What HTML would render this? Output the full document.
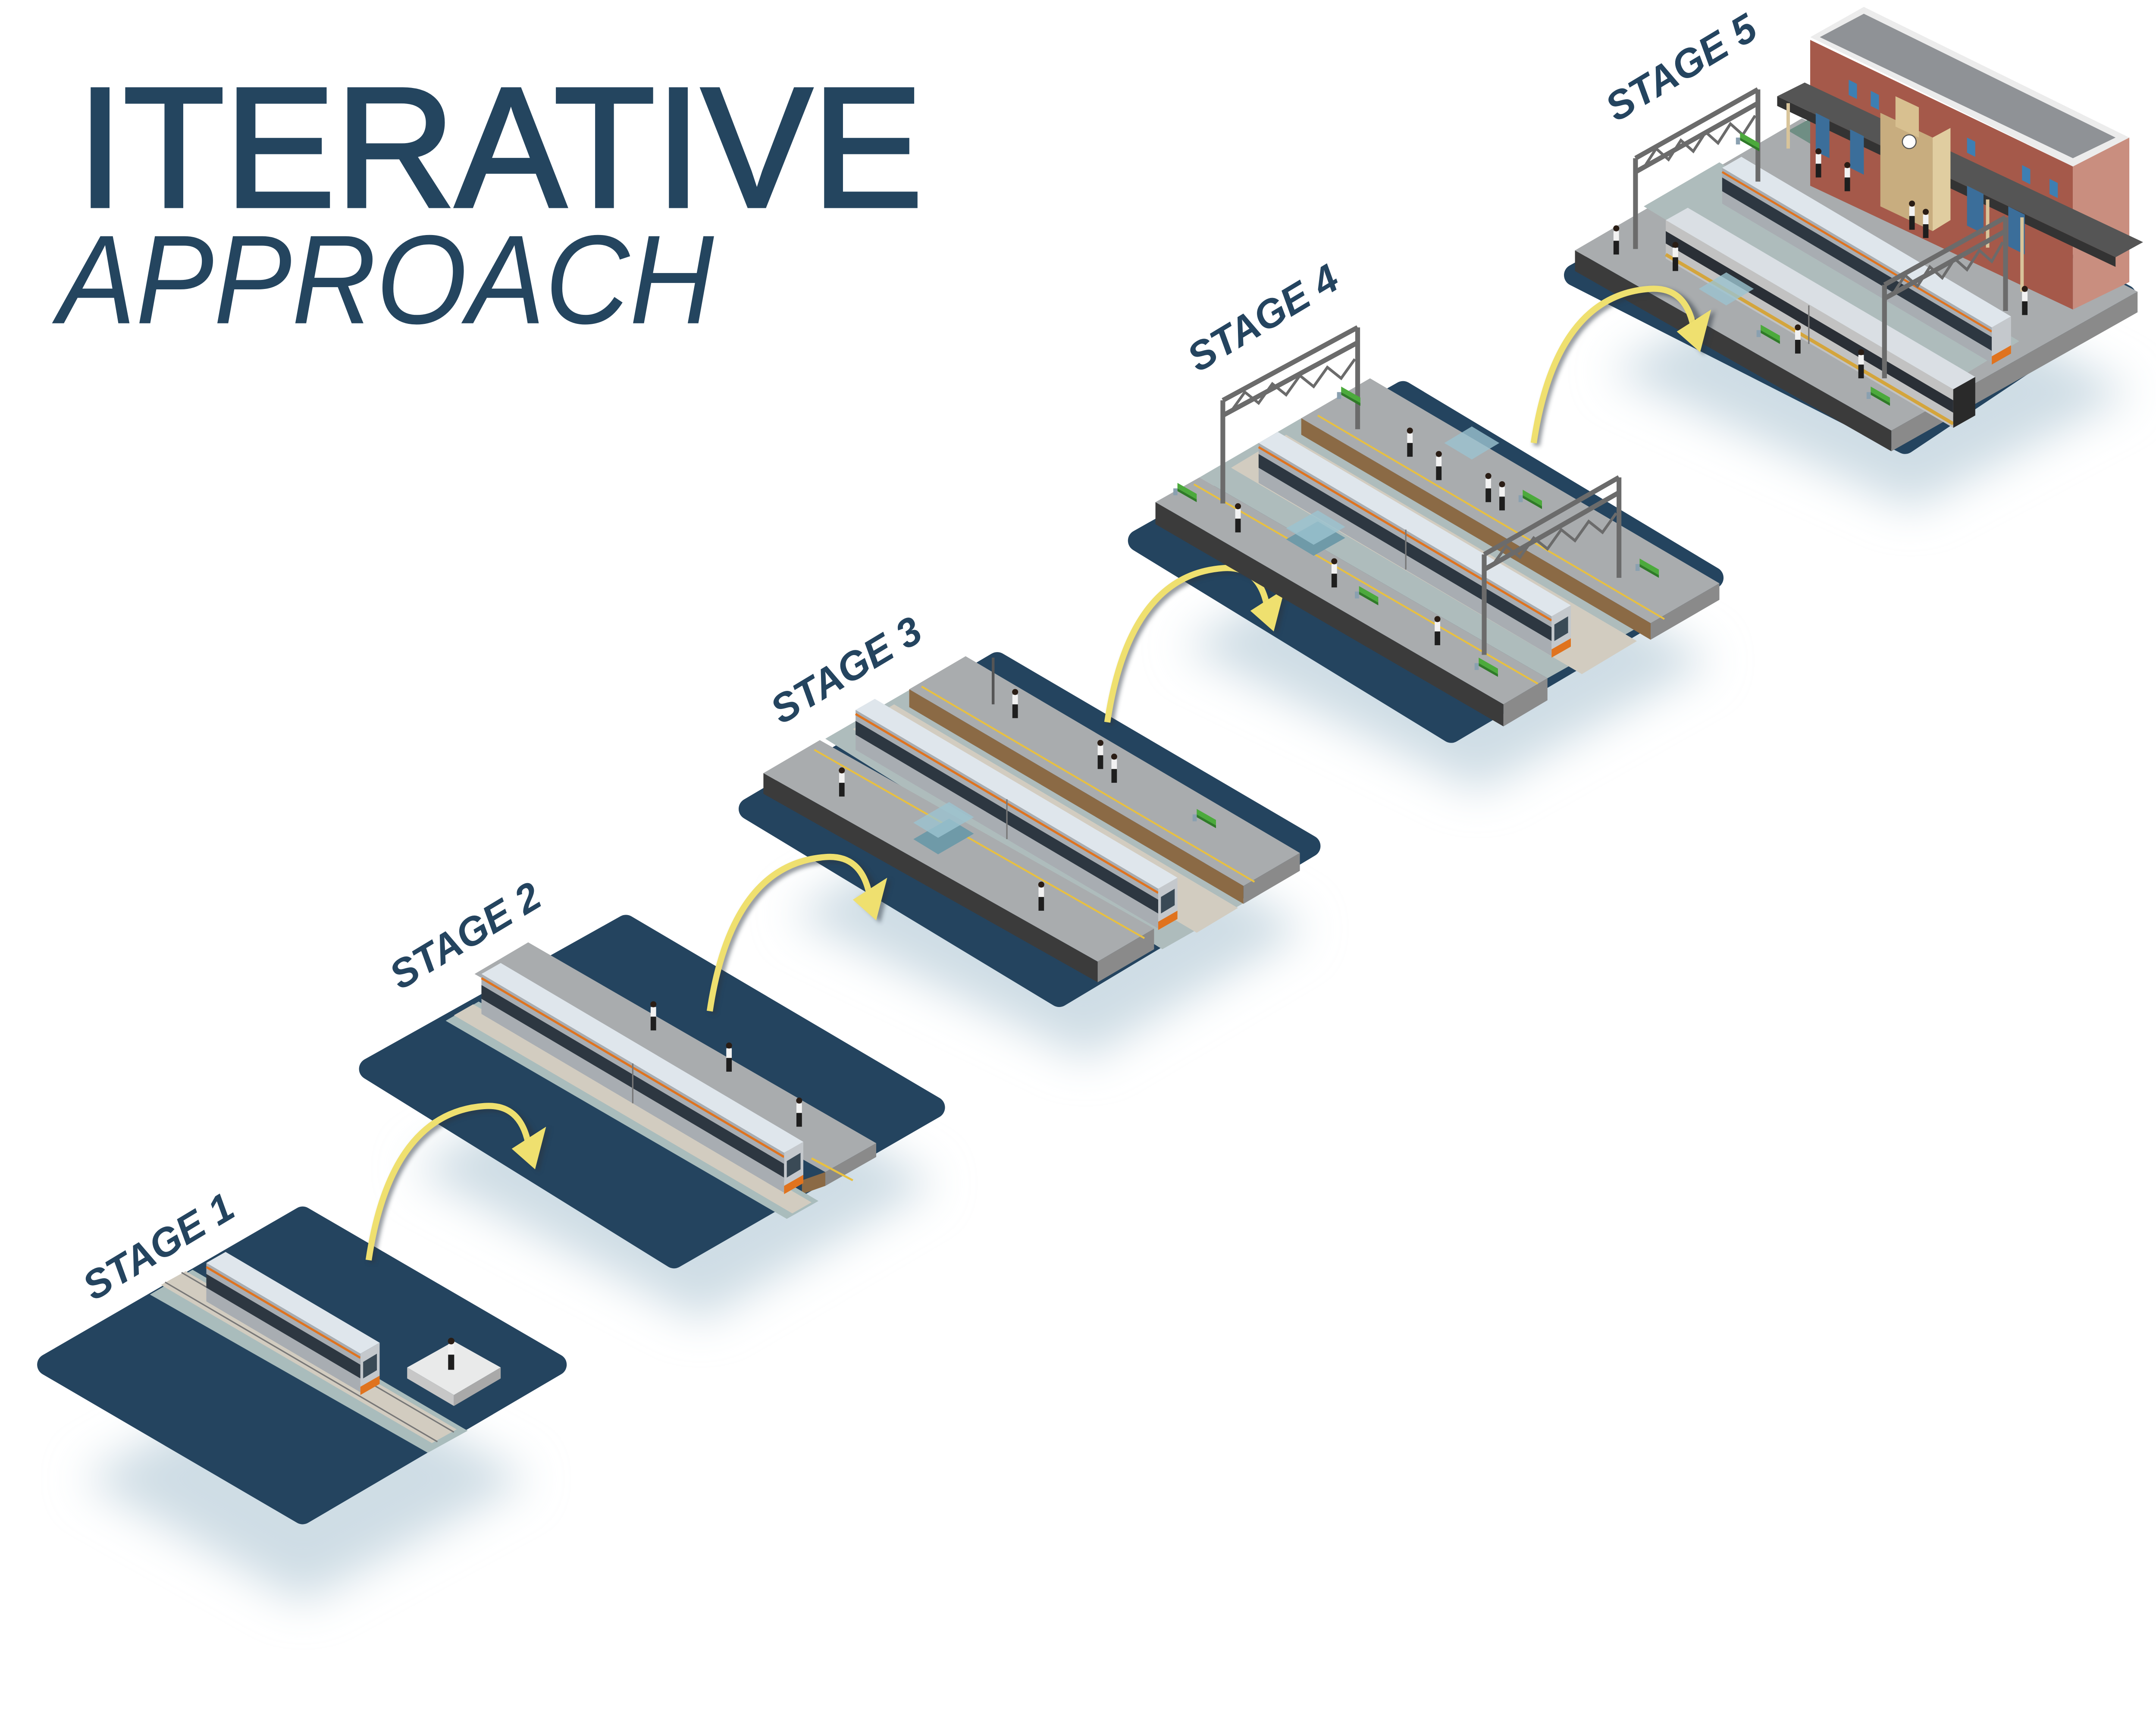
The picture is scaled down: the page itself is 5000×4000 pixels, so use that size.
<!DOCTYPE html>
<html><head><meta charset="utf-8"><style>
html,body{margin:0;padding:0;background:#fff;}
svg{display:block;}
</style></head><body>
<svg width="5000" height="4000" viewBox="0 0 1567.4 1253.9" preserveAspectRatio="none" xmlns="http://www.w3.org/2000/svg">
<defs>
<filter id="bl" x="-30%" y="-30%" width="160%" height="160%"><feGaussianBlur stdDeviation="16"/></filter>
<filter id="ds" x="-20%" y="-20%" width="140%" height="140%"><feGaussianBlur stdDeviation="1.5"/></filter>
<g id="arrow">
  <path d="M516,735 Q532,628 600,623 Q628,621 636,652" fill="none" stroke="#2a3440" stroke-width="5" opacity="0.5" filter="url(#ds)" transform="translate(2,2)"/>
  <path d="M516,735 Q532,628 600,623 Q626,621 632,650" fill="none" stroke="#efe06f" stroke-width="4.5"/>
  <polygon points="621,652 646,637 638,669" fill="#2a3440" opacity="0.5" filter="url(#ds)" transform="translate(2,2)"/>
  <polygon points="620,654 645,638 637,669" fill="#efe06f"/>
</g>
<g id="person">
  <rect x="-2" y="-10" width="4" height="8" fill="#f2f2f2"/>
  <rect x="-2" y="-3" width="4" height="10" fill="#1e1e1e"/>
  <circle cx="0" cy="-12" r="2.2" fill="#2a1d15"/>
</g>
<g id="bench">
  <polygon points="0,0 14,8 14,4 0,-4" fill="#4caa3c"/>
  <polygon points="0,0 14,8 14,10 0,2" fill="#2f7a28"/>
  <rect x="-3" y="0" width="3" height="5" fill="#8aa0b0"/>
</g>
</defs>

<!-- Title -->
<text x="56" y="150" font-family="Liberation Sans, sans-serif" font-size="124" fill="#24455f" stroke="#24455f" stroke-width="2.5" textLength="615" lengthAdjust="spacingAndGlyphs">ITERATIVE</text>
<text x="42" y="235" font-family="Liberation Sans, sans-serif" font-style="italic" font-size="92" fill="#24455f" textLength="477" lengthAdjust="spacingAndGlyphs">APPROACH</text>

<!-- Shadows -->
<g fill="#cfdde5" filter="url(#bl)">
  <polygon points="60,1075 220,985 385,1075 220,1165"/>
  <polygon points="300,850 480,745 680,860 510,960"/>
  <polygon points="575,665 750,560 950,675 790,770"/>
  <polygon points="860,470 1040,365 1245,480 1075,575"/>
  <polygon points="1170,270 1340,175 1550,285 1390,370"/>
</g>

<!-- Platforms (dark) -->
<g fill="#24445f" stroke="#24445f" stroke-width="16" stroke-linejoin="round">
  <polygon points="35,992 220,885 404,992 220,1100"/>
  <polygon points="269,777 455,673 679,805 490,914"/>
  <polygon points="545,588 725,482 952,615 770,724"/>
  <polygon points="828,393 1020,285 1245,420 1055,532"/>
  <polygon points="1145,200 1330,98 1545,215 1385,322"/>
</g>

<!-- Stage labels -->
<g font-family="Liberation Sans, sans-serif" font-weight="bold" font-style="italic" font-size="29" fill="#24445f">
  <text transform="translate(68,946) rotate(-31)">STAGE 1</text>
  <text transform="translate(291,720) rotate(-31)">STAGE 2</text>
  <text transform="translate(568,527) rotate(-31)">STAGE 3</text>
  <text transform="translate(871,271) rotate(-31)">STAGE 4</text>
  <text transform="translate(1175,89) rotate(-31)">STAGE 5</text>
</g>

<!-- ===== Stage 1 ===== -->
<polygon points="109,941 140,923 340,1040 311,1056" fill="#a9bcbc"/>
<polygon points="117,934 135,924 332,1039 314,1049" fill="#d2ccc0"/>
<line x1="120" y1="932" x2="318" y2="1048" stroke="#777" stroke-width="1"/>
<line x1="132" y1="925" x2="330" y2="1041" stroke="#777" stroke-width="1"/>
<polygon points="150,918 164,910 276,976 262,984" fill="#dfe6ec"/>
<polygon points="150,918 262,984 262,1012 150,946" fill="#a8adb2"/>
<polygon points="150,926 262,992 262,1002 150,936" fill="#2d3741"/>
<line x1="150" y1="921" x2="262" y2="987" stroke="#e0731e" stroke-width="1.6"/>
<polygon points="262,984 276,976 276,1004 262,1012" fill="#c4c8cc"/>
<polygon points="264,990 274,984 274,996 264,1002" fill="#3a4a56"/>
<polygon points="262,1008 276,1000 276,1006 262,1014" fill="#e0731e"/>
<polygon points="296,994 330,975 364,994 330,1014" fill="#e9eaea"/>
<polygon points="296,994 330,1014 330,1022 296,1002" fill="#c7c7c7"/>
<polygon points="330,1014 364,994 364,1002 330,1022" fill="#a9a9a9"/>
<use href="#person" transform="translate(328,988) scale(1.1)"/>

<use href="#arrow" transform="translate(-248,181)"/>

<!-- ===== Stage 2 ===== -->
<polygon points="345,708 384,685 637,831 600,852" fill="#a9acae"/>
<polygon points="600,852 637,831 637,841 600,862" fill="#8a8a8a"/>
<polygon points="583,858 600,852 600,862 583,868" fill="#8b6a45"/>
<line x1="590" y1="842" x2="620" y2="858" stroke="#e8c040" stroke-width="1.5"/>
<polygon points="324,742 348,728 595,873 572,886" fill="#a9bcbc"/>
<polygon points="330,738 344,730 590,874 576,882" fill="#d2ccc0"/>
<polygon points="350,708 364,700 584,830 570,838" fill="#dfe6ec"/>
<polygon points="350,708 570,838 570,867 350,737" fill="#a8adb2"/>
<polygon points="350,716 570,846 570,856 350,726" fill="#2d3741"/>
<line x1="350" y1="711" x2="570" y2="841" stroke="#e0731e" stroke-width="1.6"/>
<line x1="460" y1="773" x2="460" y2="802" stroke="#777" stroke-width="1"/>
<polygon points="570,838 584,830 584,859 570,867" fill="#c4c8cc"/>
<polygon points="572,844 582,838 582,850 572,856" fill="#3a4a56"/>
<polygon points="570,862 584,854 584,860 570,868" fill="#e0731e"/>
<use href="#person" transform="translate(475,742)"/>
<use href="#person" transform="translate(530,772)"/>
<use href="#person" transform="translate(581,812)"/>

<use href="#arrow"/>

<!-- ===== Stage 3 ===== -->
<polygon points="600,537 662,501 905,656 845,690" fill="#aebcbc"/>
<polygon points="620,530 650,512 900,660 870,678" fill="#d2ccc0"/>
<polygon points="661,501 702,477 945,620 904,644" fill="#a9acae"/>
<polygon points="661,501 904,644 904,657 661,514" fill="#8b6a45"/>
<polygon points="904,644 945,620 945,633 904,657" fill="#8a8a8a"/>
<line x1="670" y1="499" x2="912" y2="641" stroke="#e8c040" stroke-width="1.3"/>
<polygon points="622,516 636,508 856,638 842,646" fill="#dfe6ec"/>
<polygon points="622,516 842,646 842,675 622,545" fill="#a8adb2"/>
<polygon points="622,524 842,654 842,664 622,534" fill="#2d3741"/>
<line x1="622" y1="519" x2="842" y2="649" stroke="#e0731e" stroke-width="1.6"/>
<line x1="732" y1="581" x2="732" y2="610" stroke="#777" stroke-width="1"/>
<polygon points="842,646 856,638 856,667 842,675" fill="#c4c8cc"/>
<polygon points="844,652 854,646 854,658 844,664" fill="#3a4a56"/>
<polygon points="842,670 856,662 856,668 842,676" fill="#e0731e"/>
<polygon points="555,562 596,538 839,675 798,699" fill="#a9acae"/>
<polygon points="555,562 798,699 798,714 555,577" fill="#3b3b3b"/>
<polygon points="798,699 839,675 839,690 798,714" fill="#8a8a8a"/>
<line x1="592" y1="545" x2="832" y2="682" stroke="#e8c040" stroke-width="1.3"/>
<polygon points="664,610 690,595 708,606 682,621" fill="#6f9aa8"/>
<polygon points="664,598 690,583 708,594 682,609" fill="#9bc3d0" opacity="0.8"/>
<line x1="722" y1="478" x2="722" y2="512" stroke="#555" stroke-width="2"/>
<use href="#person" transform="translate(738,515)"/>
<use href="#person" transform="translate(800,552)"/>
<use href="#person" transform="translate(810,562)"/>
<use href="#person" transform="translate(612,572)"/>
<use href="#person" transform="translate(757,655)"/>
<use href="#bench" transform="translate(870,592)"/>

<use href="#arrow" transform="translate(289,-210)"/>

<!-- ===== Stage 4 ===== -->
<polygon points="872,347 946,304 1198,452 1125,493" fill="#aebcbc"/>
<polygon points="895,340 935,316 1190,466 1150,490" fill="#d2ccc0"/>
<polygon points="946,304 996,275 1250,424 1200,453" fill="#a9acae"/>
<polygon points="946,304 1200,453 1200,465 946,316" fill="#8b6a45"/>
<polygon points="1200,453 1250,424 1250,436 1200,465" fill="#8a8a8a"/>
<line x1="958" y1="302" x2="1210" y2="450" stroke="#e8c040" stroke-width="1.3"/>
<polygon points="915,322 929,314 1142,440 1128,448" fill="#dfe6ec"/>
<polygon points="915,322 1128,448 1128,477 915,351" fill="#a8adb2"/>
<polygon points="915,330 1128,456 1128,466 915,340" fill="#2d3741"/>
<line x1="915" y1="325" x2="1128" y2="451" stroke="#e0731e" stroke-width="1.6"/>
<line x1="1022" y1="385" x2="1022" y2="414" stroke="#777" stroke-width="1"/>
<polygon points="1128,448 1142,440 1142,469 1128,477" fill="#c4c8cc"/>
<polygon points="1130,454 1140,448 1140,460 1130,466" fill="#3a4a56"/>
<polygon points="1128,472 1142,464 1142,470 1128,478" fill="#e0731e"/>
<polygon points="840,365 872,347 1125,493 1093,512" fill="#a9acae"/>
<polygon points="840,365 1093,512 1093,528 840,381" fill="#3b3b3b"/>
<polygon points="1093,512 1125,493 1125,509 1093,528" fill="#8a8a8a"/>
<line x1="868" y1="352" x2="1118" y2="497" stroke="#e8c040" stroke-width="1.3"/>
<polygon points="935,392 958,379 978,391 955,404" fill="#6f9aa8"/>
<polygon points="935,384 958,371 978,383 955,396" fill="#9bc3d0" opacity="0.8"/>
<polygon points="1050,322 1070,310 1090,322 1070,334" fill="#9bc3d0" opacity="0.8"/>
<g stroke="#6b6b6b" stroke-width="3.5" fill="none">
  <line x1="889" y1="366" x2="889" y2="291"/><line x1="987" y1="312" x2="987" y2="238"/>
  <line x1="889" y1="291" x2="987" y2="238"/><line x1="889" y1="302" x2="987" y2="249"/>
  <polyline points="895,299 905,285 915,293 925,279 935,287 945,273 955,281 965,267 975,275 985,261" stroke-width="2"/>
  <line x1="1079" y1="476" x2="1079" y2="403"/><line x1="1177" y1="420" x2="1177" y2="347"/>
  <line x1="1079" y1="403" x2="1177" y2="347"/><line x1="1079" y1="414" x2="1177" y2="358"/>
  <polyline points="1085,411 1095,397 1105,405 1115,391 1125,399 1135,385 1145,393 1155,379 1165,387 1175,373" stroke-width="2"/>
</g>
<use href="#bench" transform="translate(856,355)"/>
<use href="#bench" transform="translate(975,285)"/>
<use href="#bench" transform="translate(1107,360)"/>
<use href="#bench" transform="translate(1192,410)"/>
<use href="#bench" transform="translate(988,430)"/>
<use href="#bench" transform="translate(1075,482)"/>
<use href="#person" transform="translate(900,380)"/>
<use href="#person" transform="translate(1025,325)"/>
<use href="#person" transform="translate(1046,342)"/>
<use href="#person" transform="translate(1082,358)"/>
<use href="#person" transform="translate(1092,364)"/>
<use href="#person" transform="translate(970,420)"/>
<use href="#person" transform="translate(1045,462)"/>

<!-- ===== Stage 5 ===== -->
<polygon points="1145,182 1310,86 1554,212 1375,313" fill="#a9acae"/>
<polygon points="1145,182 1375,313 1375,328 1145,197" fill="#3b3b3b"/>
<polygon points="1375,313 1554,212 1554,227 1375,328" fill="#8a8a8a"/>
<polygon points="1300,95 1320,84 1500,180 1470,195" fill="#6f8e84"/>
<polygon points="1195,150 1250,118 1468,248 1412,282" fill="#aebcbc"/>
<polygon points="1316,29 1507,121 1507,225 1316,135" fill="#a5594a"/>
<polygon points="1507,121 1548,100 1548,205 1507,225" fill="#c98e7f"/>
<polygon points="1316,27 1355,5 1548,100 1507,121" fill="#ececec"/>
<polygon points="1323,27 1355,10 1538,100 1507,115" fill="#8f9296"/>
<g fill="#3d7fb3">
  <polygon points="1344,58 1350,61 1350,72 1344,69"/>
  <polygon points="1360,66 1366,69 1366,80 1360,77"/>
  <polygon points="1430,100 1436,103 1436,114 1430,111"/>
  <polygon points="1470,120 1476,123 1476,134 1470,131"/>
  <polygon points="1490,130 1496,133 1496,144 1490,141"/>
</g>
<polygon points="1292,70 1312,60 1558,176 1538,187" fill="#555"/>
<polygon points="1292,70 1538,187 1538,194 1292,77" fill="#333"/>
<g fill="#3b6e9a">
  <polygon points="1320,82 1330,87 1330,115 1320,110"/>
  <polygon points="1345,94 1355,99 1355,127 1345,122"/>
  <polygon points="1380,111 1392,117 1392,147 1380,141"/>
  <polygon points="1430,135 1442,141 1442,170 1430,164"/>
  <polygon points="1460,150 1472,156 1472,185 1460,179"/>
</g>
<polygon points="1367,82 1405,100 1405,168 1367,150" fill="#c8ad7f"/>
<polygon points="1405,100 1418,93 1418,160 1405,168" fill="#e0cda0"/>
<polygon points="1378,70 1395,78 1395,100 1378,92" fill="#d8c090"/>
<circle cx="1388" cy="103" r="5" fill="#fff" stroke="#555" stroke-width="0.8"/>
<g stroke="#d8c49a" stroke-width="2.5">
  <line x1="1300" y1="75" x2="1300" y2="108"/>
  <line x1="1445" y1="145" x2="1445" y2="180"/>
  <line x1="1470" y1="158" x2="1470" y2="212"/>
</g>
<polygon points="1252,122 1266,114 1462,230 1448,238" fill="#dfe6ec"/>
<polygon points="1252,122 1448,238 1448,264 1252,148" fill="#a8adb2"/>
<polygon points="1252,129 1448,245 1448,255 1252,139" fill="#2d3741"/>
<line x1="1252" y1="125" x2="1448" y2="241" stroke="#e0731e" stroke-width="1.5"/>
<polygon points="1448,238 1462,230 1462,256 1448,264" fill="#c4c8cc"/>
<polygon points="1448,259 1462,251 1462,257 1448,265" fill="#e0731e"/>
<polygon points="1211,160 1227,151 1436,274 1420,283" fill="#dadfe4"/>
<polygon points="1211,160 1420,283 1420,311 1211,188" fill="#c2c2c2"/>
<polygon points="1211,168 1420,291 1420,300 1211,177" fill="#2a2f36"/>
<line x1="1211" y1="185" x2="1420" y2="308" stroke="#d4a53c" stroke-width="2.5"/>
<line x1="1315" y1="222" x2="1315" y2="250" stroke="#777" stroke-width="1"/>
<polygon points="1420,283 1436,274 1436,302 1420,311" fill="#2a2a2a"/>
<g stroke="#6b6b6b" stroke-width="3.5" fill="none">
  <line x1="1189" y1="181" x2="1189" y2="115"/><line x1="1278" y1="132" x2="1278" y2="65"/>
  <line x1="1189" y1="115" x2="1278" y2="65"/><line x1="1189" y1="125" x2="1278" y2="75"/>
  <polyline points="1195,122 1204,108 1213,116 1222,102 1231,110 1240,96 1249,104 1258,90 1267,98 1276,84" stroke-width="2"/>
  <line x1="1370" y1="275" x2="1370" y2="207"/><line x1="1458" y1="226" x2="1458" y2="158"/>
  <line x1="1370" y1="207" x2="1458" y2="158"/><line x1="1370" y1="217" x2="1458" y2="168"/>
  <polyline points="1376,214 1385,200 1394,208 1403,194 1412,202 1421,188 1430,196 1439,182 1448,190 1456,176" stroke-width="2"/>
</g>
<polygon points="1235,210 1255,198 1275,210 1255,222" fill="#9bc3d0" opacity="0.8"/>
<use href="#bench" transform="translate(1280,240)"/>
<use href="#bench" transform="translate(1360,285)"/>
<use href="#bench" transform="translate(1265,100)"/>
<use href="#person" transform="translate(1175,178)"/>
<use href="#person" transform="translate(1218,190)"/>
<use href="#person" transform="translate(1307,250)"/>
<use href="#person" transform="translate(1353,268)"/>
<use href="#person" transform="translate(1322,122)"/>
<use href="#person" transform="translate(1343,132)"/>
<use href="#person" transform="translate(1390,160)"/>
<use href="#person" transform="translate(1400,166)"/>
<use href="#person" transform="translate(1472,222)"/>

<!-- arrow 4 on top -->
<use href="#arrow" transform="translate(599,-413)"/>
</svg>
</body></html>
